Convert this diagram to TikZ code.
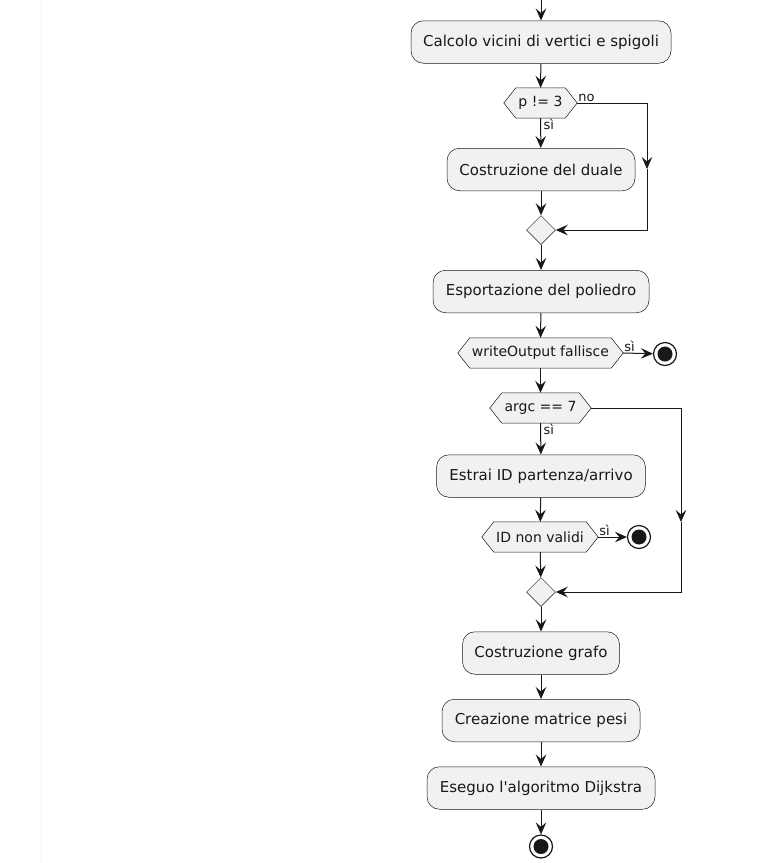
\documentclass[tikz,border=0pt]{standalone}
\usepackage{fontspec}
\setmainfont[Ligatures=TeXOff]{DejaVu Sans}
\usetikzlibrary{arrows.meta,shapes.geometric,backgrounds}
\definecolor{linec}{HTML}{181818}
\definecolor{boxfill}{HTML}{F1F1F1}
\tikzset{
  actbox/.style={draw=linec, line width=0.5pt, fill=boxfill, rounded corners=12.5pt,
    minimum height=42.5pt, inner sep=0pt, font=\fontsize{15}{18}\selectfont, text=linec},
  hexbox/.style={inner sep=0pt, minimum height=30pt, font=\fontsize{14}{17}\selectfont, text=linec},
  mergebox/.style={diamond, draw=linec, line width=0.5pt, fill=boxfill, minimum size=29pt, inner sep=0pt},
  stopbox/.style={circle, draw=linec, line width=1.2pt, fill=white, minimum size=23pt, inner sep=0pt,
    path picture={\fill[linec] (path picture bounding box.center) circle (7.5pt);}},
  flow/.style={draw=linec, line width=1pt, -{Stealth[length=12pt,width=10.5pt,inset=4.5pt]}},
  lbl/.style={font=\fontsize{13}{16}\selectfont, inner sep=1pt, text=linec},
}
\newcommand\hexdraw[1]{\filldraw[draw=linec, line width=0.5pt, fill=boxfill]
  (#1.west) -- ([xshift=12pt]#1.north west) -- ([xshift=-12pt]#1.north east) -- (#1.east)
  -- ([xshift=-12pt]#1.south east) -- ([xshift=12pt]#1.south west) -- cycle;}
\begin{document}
\begin{tikzpicture}[x=1pt,y=-1pt]
\useasboundingbox (0,0) rectangle (782,863);

\coordinate (top) at (541,0);
\node[actbox, minimum width=260pt] (b1) at (541,42) {Calcolo vicini di vertici e spigoli};
\node[hexbox, minimum width=73pt] (h1) at (540.5,103) {p != 3};
\node[actbox, minimum width=188pt] (b2) at (541,169.5) {Costruzione del duale};
\node[mergebox] (d1) at (541,230) {};
\node[actbox, minimum width=216pt] (b3) at (541,291.5) {Esportazione del poliedro};
\node[hexbox, minimum width=165pt] (h2) at (540.5,353) {writeOutput fallisce};
\node[stopbox] (s1) at (665,354) {};
\node[hexbox, minimum width=101pt] (h3) at (540.5,408) {argc == 7};
\node[actbox, minimum width=209pt] (b4) at (541,476) {Estrai ID partenza/arrivo};
\node[hexbox, minimum width=116pt] (h4) at (540,537) {ID non validi};
\node[stopbox] (s2) at (639,537) {};
\node[mergebox] (d2) at (541,592) {};
\node[actbox, minimum width=157pt] (b5) at (541,653) {Costruzione grafo};
\node[actbox, minimum width=198pt] (b6) at (541,720.5) {Creazione matrice pesi};
\node[actbox, minimum width=228pt] (b7) at (541,788) {Eseguo l'algoritmo Dijkstra};
\node[stopbox] (s3) at (541,846.5) {};

\begin{scope}[on background layer]
\fill[white] (0,0) rectangle (782,863);
\draw[black!4, line width=1pt] (41.5,0) -- (41.5,863);
\hexdraw{h1}
\hexdraw{h2}
\hexdraw{h3}
\hexdraw{h4}
\end{scope}

% main flow
\draw[flow] (top) -- (b1);
\draw[flow] (b1) -- (h1);
\draw[flow] (h1) -- (b2);
\draw[flow] (b2) -- (d1);
\draw[flow] (d1) -- (b3);
\draw[flow] (b3) -- (h2);
\draw[flow] (h2.east) -- (s1);
\draw[flow] (h2) -- (h3);
\draw[flow] (h3) -- (b4);
\draw[flow] (b4) -- (h4);
\draw[flow] (h4.east) -- (s2);
\draw[flow] (h4) -- (d2);
\draw[flow] (d2) -- (b5);
\draw[flow] (b5) -- (b6);
\draw[flow] (b6) -- (b7);
\draw[flow] (b7) -- (s3);

% "no" branch
\coordinate (n1) at (647,103);
\coordinate (n2) at (647,169);
\coordinate (n3) at (647,230);
\draw[flow] (h1.east) -- (n1) -- (n2);
\draw[flow] (n2) -- (n3) -- (d1.east);

% argc branch
\coordinate (m1) at (681,408);
\coordinate (m2) at (681,522);
\coordinate (m3) at (681,592);
\draw[flow] (h3.east) -- (m1) -- (m2);
\draw[flow] (m2) -- (m3) -- (d2.east);

% labels
\node[lbl, anchor=south west] (l1) at ([xshift=0pt]h1.east) {no};
\node[lbl, anchor=north west] (l2) at ([xshift=2pt]h1.south) {sì};
\node[lbl, anchor=south west] (l3) at ([xshift=0pt]h2.east) {sì};
\node[lbl, anchor=north west] (l4) at ([xshift=2pt]h3.south) {sì};
\node[lbl, anchor=south west] (l5) at ([xshift=0pt]h4.east) {sì};
\end{tikzpicture}
\end{document}
